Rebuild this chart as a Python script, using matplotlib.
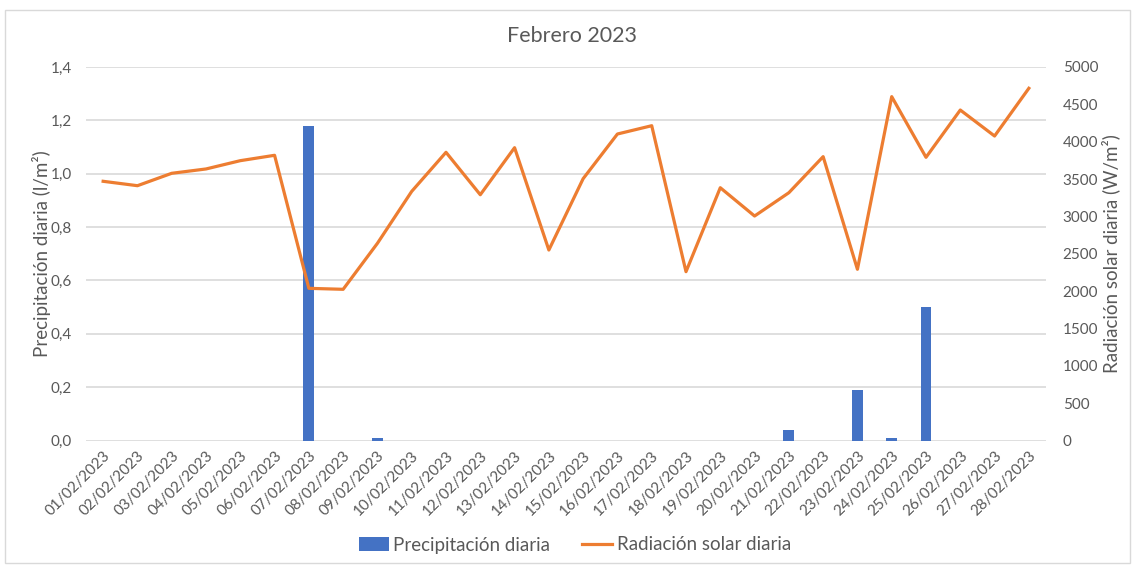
import matplotlib
matplotlib.use('Agg')
import matplotlib.pyplot as plt
from matplotlib.patches import Rectangle
from matplotlib.ticker import FuncFormatter, MultipleLocator
import numpy as np

plt.rcParams['font.family'] = ['Lato', 'DejaVu Sans']

# datos
dias = [f'{d:02d}/02/2023' for d in range(1, 29)]
precipitacion = [0, 0, 0, 0, 0, 0, 1.18, 0, 0.01, 0, 0, 0, 0, 0,
                 0, 0, 0, 0, 0, 0, 0.04, 0, 0.19, 0.01, 0.5, 0, 0, 0]
radiacion = [3470, 3411, 3577, 3635, 3746, 3818, 2037, 2024, 2640, 3335,
             3858, 3290, 3920, 2550, 3505, 4103, 4214, 2260, 3384, 3005,
             3317, 3800, 2292, 4603, 3791, 4424, 4076, 4715]

BLUE = '#4472C4'
ORANGE = '#ED7D31'
GRID = '#D9D9D9'
TXT = '#595959'

fig = plt.figure(figsize=(11.32, 5.65), dpi=100)
fig.patches.append(Rectangle((5/1132, 2/565), 1125/1132, 553/565, transform=fig.transFigure,
                             fill=False, ec='#D9D9D9', lw=1))
ax = fig.add_axes([86/1132, 1-440.5/565, 960/1132, 373.5/565])
ax2 = ax.twinx()

x = np.arange(len(dias))
bars = ax.bar(x, precipitacion, width=0.32, color=BLUE, zorder=3, label='Precipitación diaria')
line, = ax2.plot(x, radiacion, color=ORANGE, lw=2.3, solid_joinstyle='round',
                 label='Radiación solar diaria', zorder=4)

ax.set_xlim(-0.5, len(dias)-0.5)
ax.set_ylim(0, 1.4)
ax2.set_ylim(0, 5000)
ax.yaxis.set_major_locator(MultipleLocator(0.2))
ax2.yaxis.set_major_locator(MultipleLocator(500))
ax.yaxis.set_major_formatter(FuncFormatter(lambda v, p: f'{v:.1f}'.replace('.', ',')))
ax.grid(axis='y', color=GRID, lw=1.2, zorder=0)
ax.set_axisbelow(True)

ax.set_xticks(x)
ax.set_xticklabels(dias, rotation=45, ha='right', rotation_mode='anchor', fontsize=10.5, color=TXT)
for a in (ax, ax2):
    for s in a.spines.values():
        s.set_visible(False)
    a.tick_params(length=0, colors=TXT, labelsize=11)
ax.tick_params(axis='x', pad=6)
ax.tick_params(axis='y', pad=10)
ax2.tick_params(axis='y', pad=12)

ax.set_ylabel('Precipitación diaria (l/m²)', fontsize=13.5, color=TXT, labelpad=0)
ax2.set_ylabel('Radiación solar diaria (W/m²)', fontsize=13.5, color=TXT, labelpad=2)

fig.text(0.505, 1-36/565, 'Febrero 2023', ha='center', va='center', fontsize=15.5, color=TXT)

fig.legend(handles=[bars, line], loc='center', bbox_to_anchor=(0.508, 1-545/565), ncol=2,
           frameon=False, fontsize=13.5, labelcolor=TXT, handlelength=1.6, handletextpad=0.25,
           columnspacing=1.7)

fig.savefig('out.png', dpi=100)
